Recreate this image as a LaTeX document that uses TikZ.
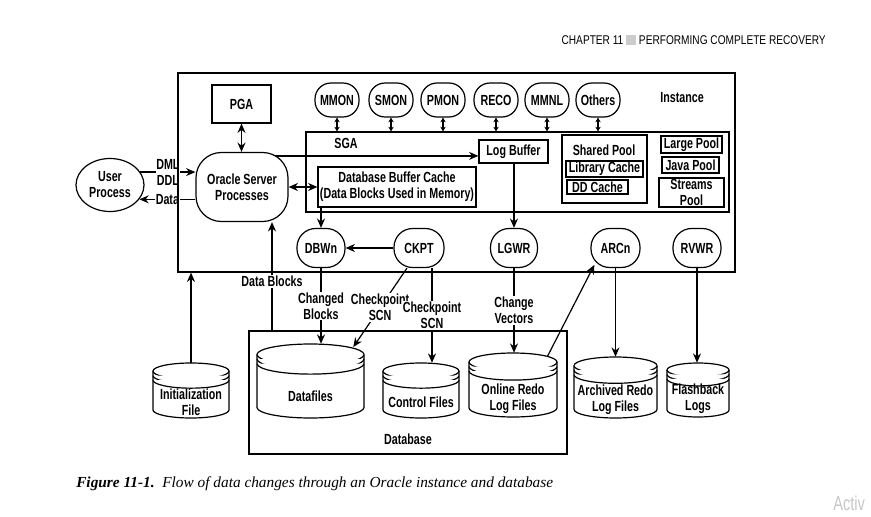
\documentclass[tikz,border=0pt]{standalone}
\usepackage{fontspec}
\setmainfont{Liberation Sans}[FakeStretch=0.73]
\newfontfamily\headfont{Liberation Sans}[FakeStretch=0.8]
\newfontfamily\capfont{Liberation Serif}
\usetikzlibrary{shapes.geometric, arrows.meta, positioning, calc, backgrounds}

% stacked disk: name, centre x, top y, width, height (all in px)
\newcommand{\diskstack}[5]{%
  \pgfmathsetmacro{\dsr}{0.08*#4+2}
  \filldraw[disk] ({#2-#4/2},{#3+\dsr}) -- ({#2-#4/2},{#3+#5-\dsr})
    arc[start angle=180, end angle=360, x radius={#4*0.375pt}, y radius={\dsr*0.75pt}]
    -- ({#2+#4/2},{#3+\dsr})
    arc[start angle=0, end angle=180, x radius={#4*0.375pt}, y radius={\dsr*0.75pt}] -- cycle;
  \foreach \ds in {0,4.5,9}
    \draw[disk] ({#2-#4/2},{#3+\dsr+\ds})
      arc[start angle=180, end angle=360, x radius={#4*0.375pt}, y radius={\dsr*0.75pt}];
  \node[diskbox, minimum width={#4*0.75pt}, minimum height={#5*0.75pt}] (#1) at (#2,{#3+#5/2}) {};
}

\begin{document}
\begin{tikzpicture}[
    x=0.75pt, y=-0.75pt,
    font=\bfseries\fontsize{11pt}{12pt}\selectfont,
    box/.style={rectangle, draw, fill=white, line width=0.9pt, inner sep=0pt, align=center},
    frame/.style={rectangle, draw, line width=0.9pt, inner sep=0pt},
    daemon/.style={rectangle, draw, fill=white, line width=0.9pt, rounded corners=12pt, minimum width=33pt, minimum height=25.5pt, inner sep=0pt},
    bgproc/.style={daemon, rounded corners=14pt, minimum width=36pt, minimum height=29.25pt},
    disk/.style={draw, fill=white, line width=0.9pt},
    diskbox/.style={rectangle, inner sep=0pt},
    disklabel/.style={align=center, inner sep=0pt},
    arrow/.style={line width=0.9pt, -{Stealth[length=7pt, width=6pt]}},
    dblarrow/.style={line width=0.9pt, {Stealth[length=7pt, width=6pt]}-{Stealth[length=7pt, width=6pt]}},
    tinyarrow/.style={line width=0.9pt, {Stealth[length=3.5pt, width=4pt]}-{Stealth[length=3.5pt, width=4pt]}},
    tag/.style={fill=white, inner sep=0.6pt, align=center}
]
\useasboundingbox (0,0) rectangle (871,517);

% Page header and caption
\node[anchor=east, inner sep=0pt, font=\headfont\fontsize{9.5pt}{11pt}\selectfont] (header) at (826,40)
  {CHAPTER 11 {\color{gray!40}\rule[-0.3pt]{7.5pt}{7.5pt}} PERFORMING COMPLETE RECOVERY};
\node[anchor=west, inner sep=0pt, font=\capfont\itshape\fontsize{11.5pt}{13pt}\selectfont] (caption) at (76,484)
  {\textbf{Figure 11-1.}\ \ Flow of data changes through an Oracle instance and database};
\node[anchor=west, inner sep=0pt, text=gray!45, font=\mdseries\fontsize{15pt}{17pt}\selectfont] (mark) at (833,503) {Activ};

% Instance and SGA frames
\node[frame, minimum width=417.75pt, minimum height=149.25pt] (inst) at (456.5,172.5) {};
\node (insttitle) at (682,98) {Instance};
\node[frame, minimum width=317.25pt, minimum height=60pt] (sga) at (517.5,172) {};
\node (sgatitle) at (346,143) {SGA};

% Background processes at the top
\foreach \name/\x in {MMON/337, SMON/391, PMON/443, RECO/496, MMNL/547, Others/598} {
  \node[daemon] (\name) at (\x,100) {\name};
  \begin{scope}[on background layer]
    \draw[tinyarrow] (\name.south) -- (\name.south |- sga.north);
  \end{scope}
}

% PGA, server and user processes
\node[box, minimum width=44.25pt, minimum height=28.5pt] (pga) at (241.5,104) {PGA};
\node[box, rounded corners=19pt, minimum width=69pt, minimum height=51.75pt] (osp) at (242,187) {Oracle Server\\Processes};
\node[ellipse, draw, fill=white, line width=0.9pt, minimum width=51pt, minimum height=39.75pt, inner sep=0pt, align=center] (user) at (110,185) {User\\Process};

% SGA contents
\node[box, minimum width=51.75pt, minimum height=17.25pt] (logbuf) at (513.5,151.5) {Log Buffer};
\node[box, minimum width=118.5pt, minimum height=30pt] (dbc) at (397,187) {Database Buffer Cache\\(Data Blocks Used in Memory)};
\node[box, minimum width=63.75pt, minimum height=51pt] (shpool) at (604.5,169) {};
\node (shtitle) at (604,150) {Shared Pool};
\node[box, minimum width=57.75pt, minimum height=12pt] (libcache) at (604.5,169) {Library Cache};
\node[box, minimum width=45.75pt, minimum height=10.5pt] (ddcache) at (597.5,187) {DD Cache};
\node[box, minimum width=45.75pt, minimum height=12.75pt] (largepool) at (691.5,144.5) {Large Pool};
\node[box, minimum width=42.75pt, minimum height=12pt] (javapool) at (690.5,165) {Java Pool};
\node[box, minimum width=48.75pt, minimum height=21.75pt] (streams) at (691.5,192.5) {Streams\\Pool};

% Lower background processes
\node[bgproc] (dbwn) at (321,248) {DBWn};
\node[bgproc, minimum width=37.5pt] (ckpt) at (419,248) {CKPT};
\node[bgproc, minimum width=35.25pt] (lgwr) at (514,248) {LGWR};
\node[bgproc, minimum width=36.75pt] (arcn) at (615.5,248) {ARCn};
\node[bgproc] (rvwr) at (697,248) {RVWR};

% Database and files
\node[frame, minimum width=238.5pt, minimum height=92.25pt] (db) at (408,392.5) {};
\node (dbtitle) at (408,439) {Database};
\diskstack{init}{191}{363}{76}{55}
\node[disklabel] (initlabel) at (191,402) {Initialization\\File};
\diskstack{df}{310.5}{344}{107}{74}
\node[disklabel] (dflabel) at (310.5,396) {Datafiles};
\diskstack{cf}{421}{363}{76}{55}
\node[disklabel] (cflabel) at (421,402) {Control Files};
\diskstack{redo}{513}{353}{88}{64}
\node[disklabel] (redolabel) at (513,399) {Online Redo\\Log Files};
\diskstack{arch}{615.5}{357}{83}{61}
\node[disklabel] (archlabel) at (615.5,400) {Archived Redo\\Log Files};
\diskstack{fb}{698}{363}{62}{54}
\node[disklabel] (fblabel) at (698,399) {Flashback\\Logs};

% Helper points
\coordinate (osptop) at ([yshift=-3pt]osp.north);
\coordinate (blkout) at ([xshift=22.5pt]osp.south);
\coordinate (ckptl) at ([xshift=-9pt]ckpt.south);
\coordinate (ckptr) at ([xshift=9.75pt]ckpt.south);

% Arrows
\begin{scope}[on background layer]
\draw[dblarrow] (pga.south) -- (pga.south |- osp.north);
\draw[arrow] (user.23) -- node[tag] {DML\\DDL} (osp.west |- user.23);
\draw[arrow] (osp.west |- user.-26) -- node[tag] {Data} (user.-26);
\draw[arrow] (osptop) -- (osptop -| logbuf.west);
\draw[dblarrow] (osp.east) -- (dbc.west);
\draw[arrow] (dbwn.north |- dbc.south) -- (dbwn.north);
\draw[arrow] (lgwr.north |- logbuf.south) -- (lgwr.north);
\draw[arrow] (ckpt.west) -- (dbwn.east);
\draw[arrow] (blkout |- db.north) -- node[tag, pos=0.45] {Data Blocks} (blkout);
\draw[arrow] (init.north) -- (init.north |- inst.south);
\draw[arrow] (dbwn.south) -- node[tag] {Changed\\Blocks} (dbwn.south |- df.north);
\draw[arrow] (ckptl) -- node[tag] {Checkpoint\\SCN} ([xshift=-8.25pt, yshift=-2.5pt]df.north east);
\draw[arrow] (ckptr) -- node[tag] {Checkpoint\\SCN} (ckptr |- cf.north);
\draw[arrow] (lgwr.south) -- node[tag] {Change\\Vectors} (lgwr.south |- redo.north);
\draw[arrow] ([xshift=-7.5pt, yshift=-3pt]redo.north east) -- ([xshift=3pt, yshift=2.5pt]arcn.south west);
\draw[arrow] (arcn.south) -- (arcn.south |- arch.north);
\draw[arrow] (rvwr.south) -- (rvwr.south |- fb.north);
\end{scope}

\end{tikzpicture}
\end{document}
